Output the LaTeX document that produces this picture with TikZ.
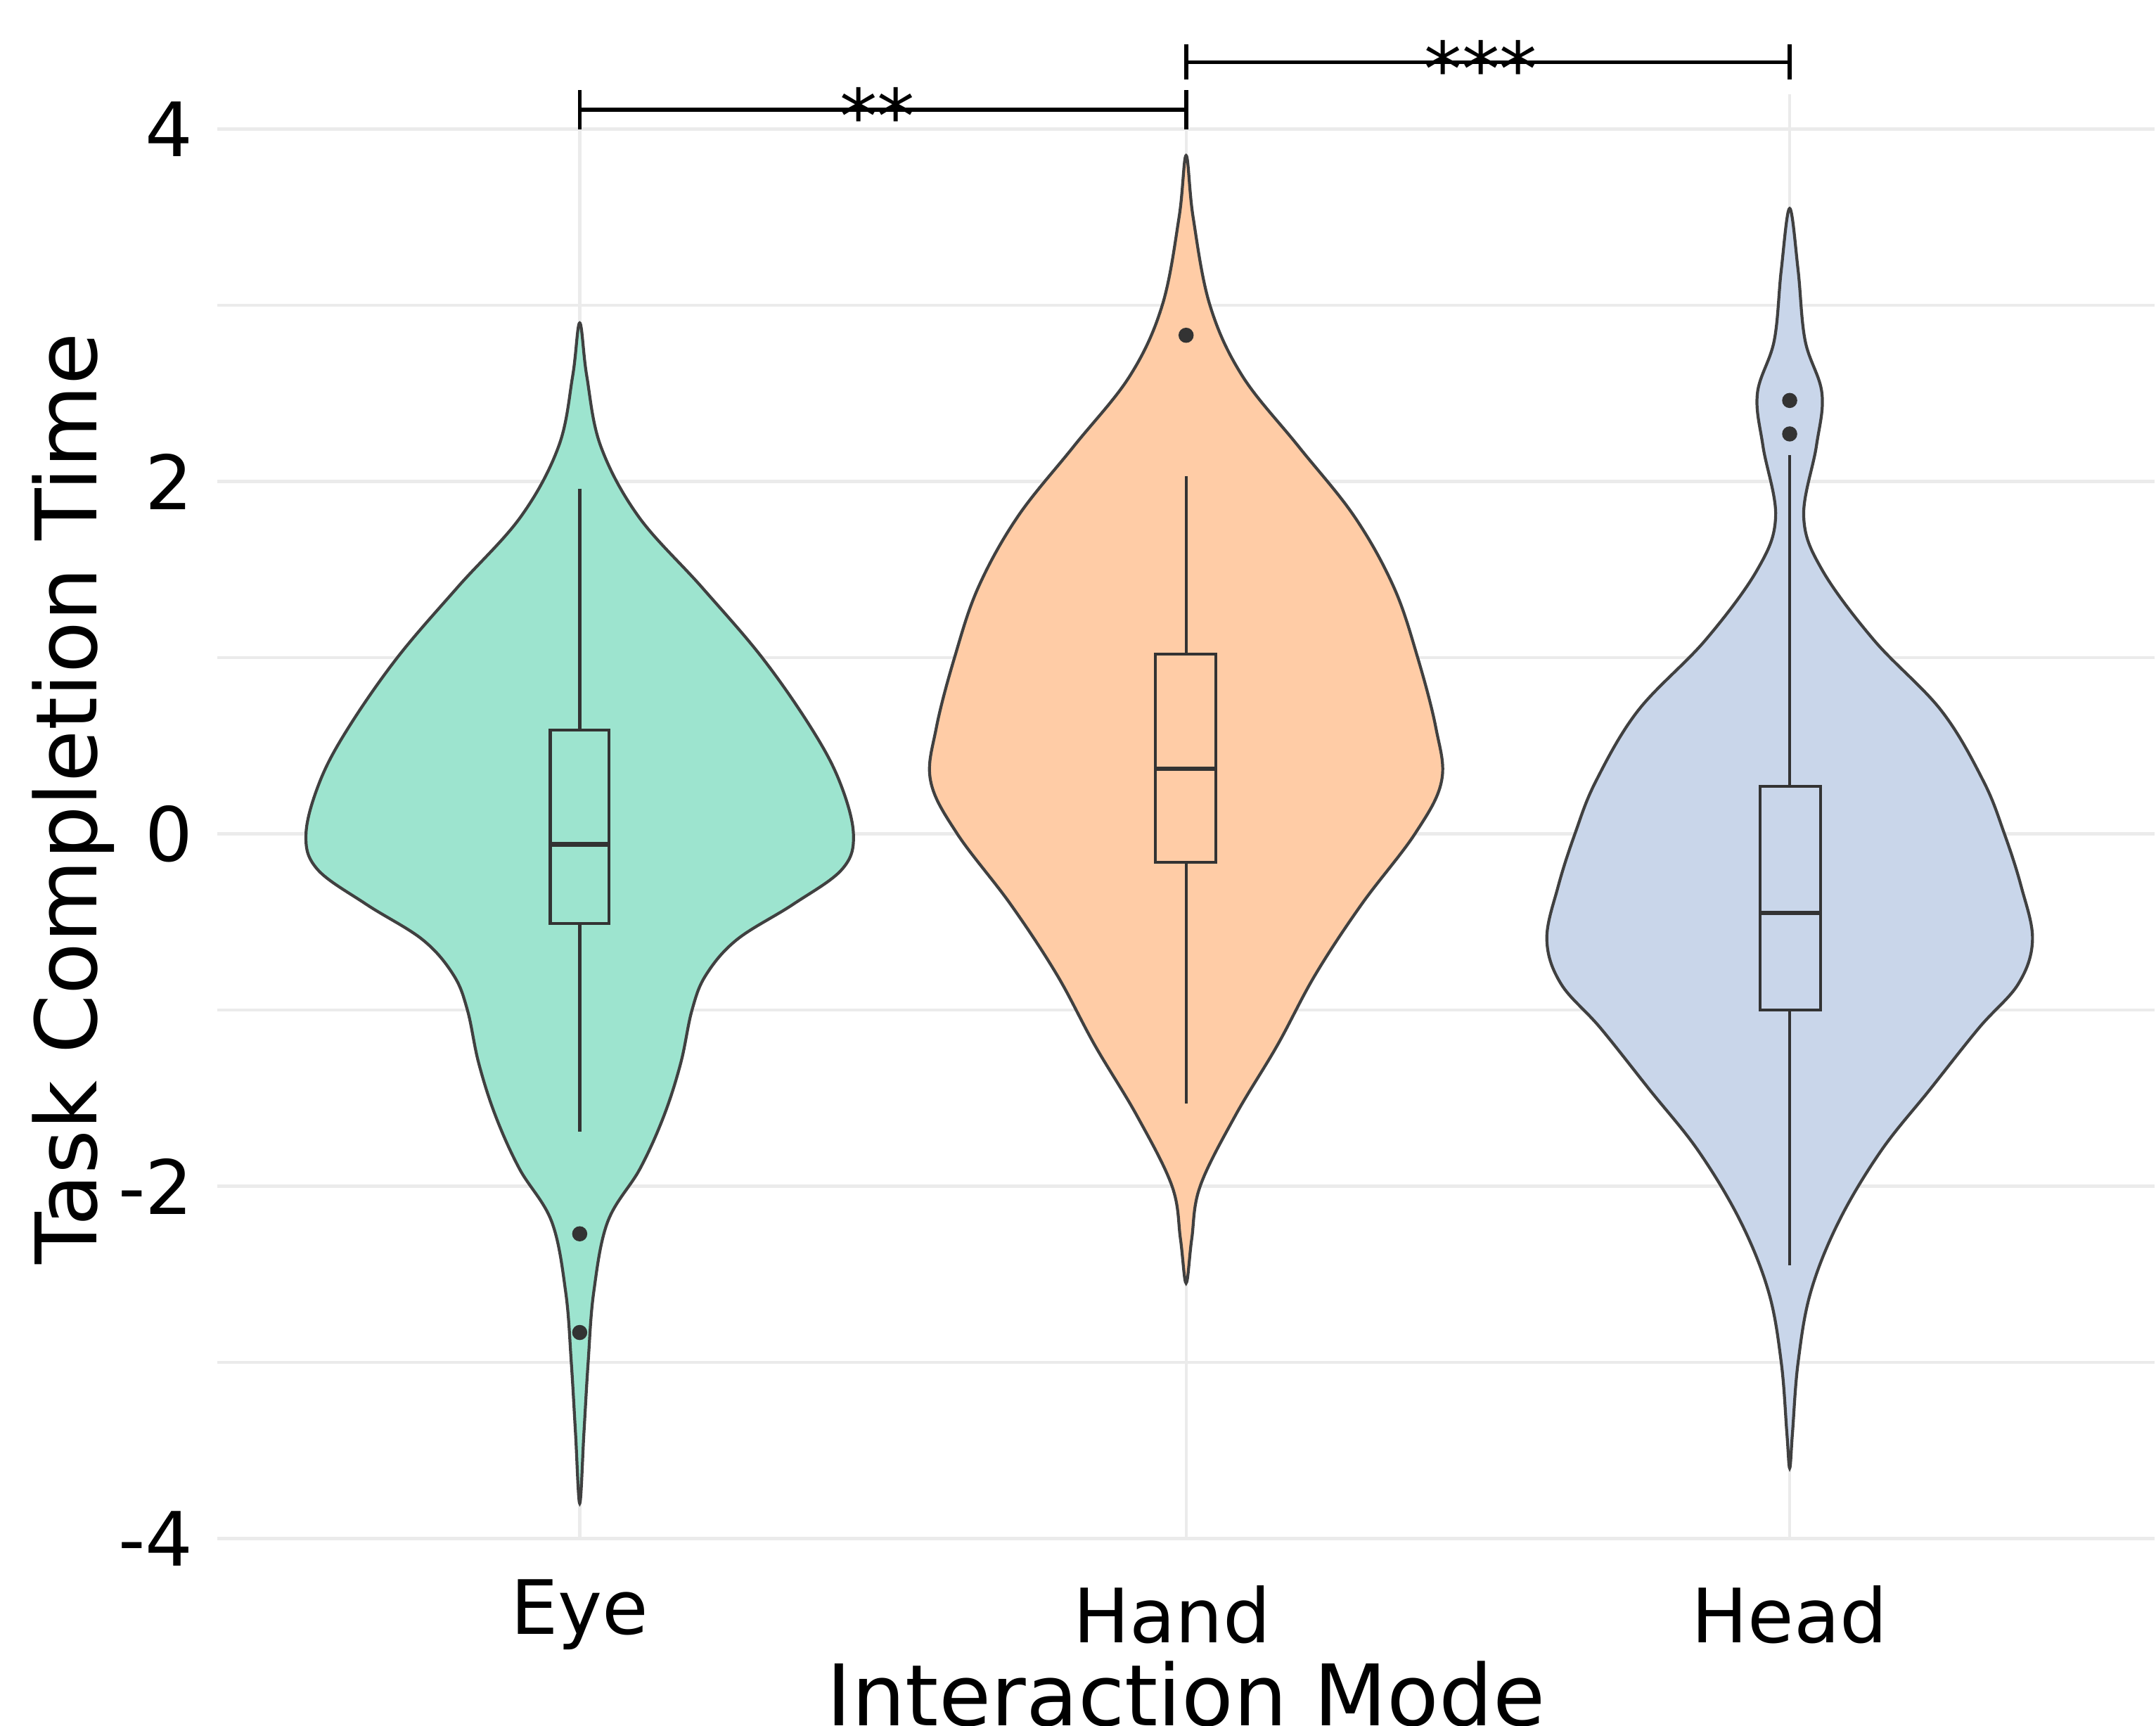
\documentclass[tikz,border=0pt]{standalone}
\usepackage{fontspec}
\setmainfont{DejaVu Sans}
\begin{document}
\begin{tikzpicture}[x=0.05cm,y=6.275cm,
  grid/.style={draw=black!8,line width=3pt},
  vio/.style={draw=black!75,line width=3pt},
  box/.style={draw=black!80,line width=3pt},
  odot/.style={fill=black!80,draw=none},
  lab/.style={font=\fontsize{76}{78}\selectfont},
  title/.style={font=\fontsize{86}{88}\selectfont}]
\definecolor{ceye}{HTML}{9DE4CF}
\definecolor{chand}{HTML}{FFCCA6}
\definecolor{chead}{HTML}{C9D6EA}
\useasboundingbox (0,-5.06) rectangle (1536,4.733);
% grid
\foreach \v in {-4,-3,...,4} \draw[grid] (155,\v) -- (1535,\v);
\foreach \x in {413,845,1275} \draw[grid] (\x,-4) -- (\x,4.2);
% violins
\draw[vio,fill=ceye] plot[smooth cycle,tension=0.6] coordinates {(413,2.9)(418,2.6)(428,2.2)(455,1.8)(500,1.4)(543,1.0)(578,0.6)(598,0.3)(608,0.0)(600,-0.2)(565,-0.4)(525,-0.6)(503,-0.8)(493,-1.0)(485,-1.3)(473,-1.6)(456,-1.9)(433,-2.2)(423,-2.6)(419,-3.0)(416,-3.4)(413,-3.8)(410,-3.4)(407,-3.0)(403,-2.6)(393,-2.2)(370,-1.9)(353,-1.6)(341,-1.3)(333,-1.0)(323,-0.8)(301,-0.6)(261,-0.4)(226,-0.2)(218,0)(228,0.3)(248,0.6)(283,1.0)(326,1.4)(371,1.8)(398,2.2)(408,2.6)};
\draw[vio,fill=chand] plot[smooth cycle,tension=0.6] coordinates {(845,3.85)(850,3.5)(862,3.0)(885,2.6)(925,2.2)(965,1.8)(993,1.4)(1010,1.0)(1023,0.6)(1027,0.3)(1008,0.0)(970,-0.4)(937,-0.8)(910,-1.2)(880,-1.6)(855,-2.0)(849,-2.3)(845,-2.55)(841,-2.3)(835,-2.0)(810,-1.6)(780,-1.2)(753,-0.8)(720,-0.4)(682,0.0)(663,0.3)(667,0.6)(680,1.0)(697,1.4)(725,1.8)(765,2.2)(805,2.6)(828,3.0)(840,3.5)};
\draw[vio,fill=chead] plot[smooth cycle,tension=0.6] coordinates {(1275,3.55)(1281,3.2)(1286,2.8)(1298,2.5)(1294,2.2)(1285,1.8)(1298,1.5)(1335,1.1)(1383,0.7)(1413,0.3)(1428,0)(1440,-0.3)(1448,-0.6)(1438,-0.85)(1410,-1.1)(1375,-1.45)(1340,-1.8)(1310,-2.2)(1290,-2.6)(1281,-3.0)(1277,-3.4)(1275,-3.6)(1273,-3.4)(1269,-3.0)(1260,-2.6)(1240,-2.2)(1210,-1.8)(1175,-1.45)(1140,-1.1)(1112,-0.85)(1102,-0.6)(1110,-0.3)(1122,0)(1137,0.3)(1167,0.7)(1215,1.1)(1252,1.5)(1265,1.8)(1256,2.2)(1252,2.5)(1264,2.8)(1269,3.2)};
% boxes
\draw[box] (413,1.96) -- (413,0.59) (413,-0.51) -- (413,-1.69);
\draw[box] (392,-0.51) rectangle (434,0.59);
\draw[box,line width=4.5pt] (392,-0.06) -- (434,-0.06);
\fill[odot] (413,-2.27) circle (0.27cm) (413,-2.83) circle (0.27cm);
\draw[box] (845,2.03) -- (845,1.02) (845,-0.16) -- (845,-1.53);
\draw[box] (823,-0.16) rectangle (866,1.02);
\draw[box,line width=4.5pt] (823,0.37) -- (866,0.37);
\fill[odot] (845,2.83) circle (0.27cm);
\draw[box] (1275,2.15) -- (1275,0.27) (1275,-1.0) -- (1275,-2.45);
\draw[box] (1254,-1.0) rectangle (1297,0.27);
\draw[box,line width=4.5pt] (1254,-0.45) -- (1297,-0.45);
\fill[odot] (1275,2.46) circle (0.27cm) (1275,2.27) circle (0.27cm);
% significance
\draw[black,line width=4pt] (413,4.0) -- (413,4.22) (413,4.11) -- (845,4.11) (845,4.0) -- (845,4.22);
\draw[black,line width=4pt] (845,4.28) -- (845,4.48) (845,4.38) -- (1275,4.38) (1275,4.28) -- (1275,4.48);
\node[lab,anchor=base] (s1) at (625,3.92) {**};
\node[lab,anchor=base] (s2) at (1055,4.19) {***};
% tick labels
\foreach \v/\t in {4/4,2/2,0/0,-2/-2,-4/-4} \node[lab,anchor=east] at (140,\v) {\t};
\node[lab] (e) at (413,-4.43) {Eye};
\node[lab] (h) at (835,-4.43) {Hand};
\node[lab] (d) at (1275,-4.43) {Head};
\node[title] (xt) at (845,-4.88) {Interaction Mode};
\node[title,rotate=90] (yt) at (52,0.2) {Task Completion Time};
\end{tikzpicture}
\end{document}
